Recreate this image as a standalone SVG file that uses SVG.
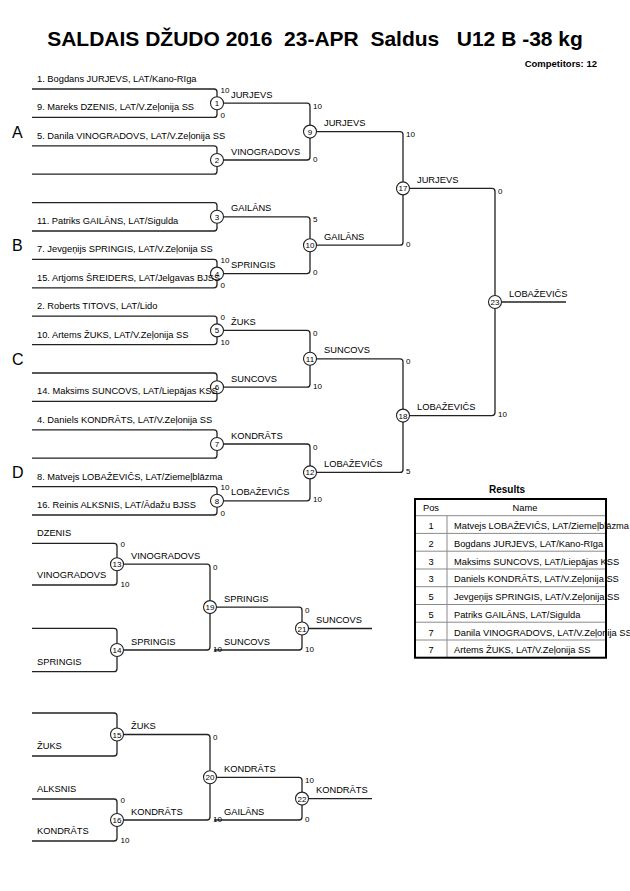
<svg xmlns="http://www.w3.org/2000/svg" width="630" height="891" viewBox="0 0 630 891">
<style>
text{font-family:"Liberation Sans",Arial,sans-serif;fill:#000}
.br{fill:none;stroke:#222;stroke-width:1.3}
.c{fill:#fff;stroke:#222;stroke-width:1.1}
.n{font-size:9.3px}
.w{font-size:9.3px}
.s{font-size:8px}
.cn{font-size:8px;text-anchor:middle}
.pool{font-size:16px}
.title{font-size:21px;font-weight:bold}
.comp{font-size:9.5px;font-weight:bold;text-anchor:end}
.rl{stroke:#8a8a8a;stroke-width:1}
.mid{text-anchor:middle}
</style>
<rect width="630" height="891" fill="#fff"/>
<text class="title" x="315" y="46" text-anchor="middle" xml:space="preserve">SALDAIS DŽUDO 2016  23-APR  Saldus   U12 B -38 kg</text>
<text class="comp" x="597" y="67">Competitors: 12</text>
<g id="pools">
<text class="pool" x="12" y="137.6">A</text>
<text class="pool" x="12" y="251.2">B</text>
<text class="pool" x="12" y="364.8">C</text>
<text class="pool" x="12" y="478.4">D</text>
</g>
<g id="connectors">
<path class="br" d="M32 89H214Q217 89 217 92V114.4Q217 117.4 214 117.4H32"/>
<path class="br" d="M32 145.8H214Q217 145.8 217 148.8V171.2Q217 174.2 214 174.2H32"/>
<path class="br" d="M32 202.6H214Q217 202.6 217 205.6V228Q217 231 214 231H32"/>
<path class="br" d="M32 259.4H214Q217 259.4 217 262.4V284.8Q217 287.8 214 287.8H32"/>
<path class="br" d="M32 316.2H214Q217 316.2 217 319.2V341.6Q217 344.6 214 344.6H32"/>
<path class="br" d="M32 373H214Q217 373 217 376V398.4Q217 401.4 214 401.4H32"/>
<path class="br" d="M32 429.8H214Q217 429.8 217 432.8V455.2Q217 458.2 214 458.2H32"/>
<path class="br" d="M32 486.6H214Q217 486.6 217 489.6V512Q217 515 214 515H32"/>
<path class="br" d="M217 103.2H307Q310 103.2 310 106.2V157Q310 160 307 160H217"/>
<path class="br" d="M217 216.8H307Q310 216.8 310 219.8V270.6Q310 273.6 307 273.6H217"/>
<path class="br" d="M217 330.4H307Q310 330.4 310 333.4V384.2Q310 387.2 307 387.2H217"/>
<path class="br" d="M217 444H307Q310 444 310 447V497.8Q310 500.8 307 500.8H217"/>
<path class="br" d="M310 131.6H400Q403 131.6 403 134.6V242.2Q403 245.2 400 245.2H310"/>
<path class="br" d="M310 358.8H400Q403 358.8 403 361.8V469.4Q403 472.4 400 472.4H310"/>
<path class="br" d="M403 188.4H492Q495 188.4 495 191.4V412.6Q495 415.6 492 415.6H403"/>
<path class="br" d="M495 302H566"/>
<path class="br" d="M32 543.3H114Q117 543.3 117 546.3V582Q117 585 114 585H32"/>
<path class="br" d="M32 628.3H114Q117 628.3 117 631.3V668.7Q117 671.7 114 671.7H32"/>
<path class="br" d="M117 564.2H207Q210 564.2 210 567.2V647Q210 650 207 650H117"/>
<path class="br" d="M210 607.1H299Q302 607.1 302 610.1V647Q302 650 299 650H214"/>
<path class="br" d="M302 628.5H372"/>
<path class="br" d="M32 713H114Q117 713 117 716V753Q117 756 114 756H32"/>
<path class="br" d="M32 799H114Q117 799 117 802V838Q117 841 114 841H32"/>
<path class="br" d="M117 734.5H207Q210 734.5 210 737.5V817Q210 820 207 820H117"/>
<path class="br" d="M210 777.3H299Q302 777.3 302 780.3V817Q302 820 299 820H214"/>
<path class="br" d="M302 798.6H372"/>
</g>
<g id="m1"><circle class="c" cx="217" cy="103.2" r="6.5"/><text class="cn" x="217" y="106.2">1</text><text class="w" x="231" y="97.7">JURJEVS</text><text class="s" x="220.5" y="92.5">10</text><text class="s" x="220.5" y="117.9">0</text></g>
<g id="m2"><circle class="c" cx="217" cy="160" r="6.5"/><text class="cn" x="217" y="163">2</text><text class="w" x="231" y="154.5">VINOGRADOVS</text></g>
<g id="m3"><circle class="c" cx="217" cy="216.8" r="6.5"/><text class="cn" x="217" y="219.8">3</text><text class="w" x="231" y="211.3">GAILĀNS</text></g>
<g id="m4"><circle class="c" cx="217" cy="273.6" r="6.5"/><text class="cn" x="217" y="276.6">4</text><text class="w" x="231" y="268.1">SPRINGIS</text><text class="s" x="220.5" y="262.9">10</text><text class="s" x="220.5" y="288.3">0</text></g>
<g id="m5"><circle class="c" cx="217" cy="330.4" r="6.5"/><text class="cn" x="217" y="333.4">5</text><text class="w" x="231" y="324.9">ŽUKS</text><text class="s" x="220.5" y="319.7">0</text><text class="s" x="220.5" y="345.1">10</text></g>
<g id="m6"><circle class="c" cx="217" cy="387.2" r="6.5"/><text class="cn" x="217" y="390.2">6</text><text class="w" x="231" y="381.7">SUNCOVS</text></g>
<g id="m7"><circle class="c" cx="217" cy="444" r="6.5"/><text class="cn" x="217" y="447">7</text><text class="w" x="231" y="438.5">KONDRĀTS</text></g>
<g id="m8"><circle class="c" cx="217" cy="500.8" r="6.5"/><text class="cn" x="217" y="503.8">8</text><text class="w" x="231" y="495.3">LOBAŽEVIČS</text><text class="s" x="220.5" y="490.1">10</text><text class="s" x="220.5" y="515.5">0</text></g>
<g id="m9"><circle class="c" cx="310" cy="131.6" r="6.5"/><text class="cn" x="310" y="134.6">9</text><text class="w" x="324" y="126.1">JURJEVS</text><text class="s" x="313" y="108.7">10</text><text class="s" x="313" y="161.5">0</text></g>
<g id="m10"><circle class="c" cx="310" cy="245.2" r="6.5"/><text class="cn" x="310" y="248.2">10</text><text class="w" x="324" y="239.7">GAILĀNS</text><text class="s" x="313" y="222.3">5</text><text class="s" x="313" y="275.1">0</text></g>
<g id="m11"><circle class="c" cx="310" cy="358.8" r="6.5"/><text class="cn" x="310" y="361.8">11</text><text class="w" x="324" y="353.3">SUNCOVS</text><text class="s" x="313" y="335.9">0</text><text class="s" x="313" y="388.7">10</text></g>
<g id="m12"><circle class="c" cx="310" cy="472.4" r="6.5"/><text class="cn" x="310" y="475.4">12</text><text class="w" x="324" y="466.9">LOBAŽEVIČS</text><text class="s" x="313" y="449.5">0</text><text class="s" x="313" y="502.3">10</text></g>
<g id="m17"><circle class="c" cx="403" cy="188.4" r="6.5"/><text class="cn" x="403" y="191.4">17</text><text class="w" x="417" y="182.9">JURJEVS</text><text class="s" x="406" y="137.1">10</text><text class="s" x="406" y="246.7">0</text></g>
<g id="m18"><circle class="c" cx="403" cy="415.6" r="6.5"/><text class="cn" x="403" y="418.6">18</text><text class="w" x="417" y="410.1">LOBAŽEVIČS</text><text class="s" x="406" y="364.3">0</text><text class="s" x="406" y="474">5</text></g>
<g id="m23"><circle class="c" cx="495" cy="302" r="6.5"/><text class="cn" x="495" y="305">23</text><text class="w" x="509" y="296.5">LOBAŽEVIČS</text><text class="s" x="498" y="193.9">0</text><text class="s" x="498" y="417.1">10</text></g>
<g id="m13"><circle class="c" cx="117" cy="564.2" r="6.5"/><text class="cn" x="117" y="567.2">13</text><text class="w" x="131" y="558.7">VINOGRADOVS</text><text class="s" x="120.5" y="547.3">0</text><text class="s" x="120.5" y="586.7">10</text></g>
<g id="m14"><circle class="c" cx="117" cy="650" r="6.5"/><text class="cn" x="117" y="653">14</text><text class="w" x="131" y="644.5">SPRINGIS</text></g>
<g id="m19"><circle class="c" cx="210" cy="607.1" r="6.5"/><text class="cn" x="210" y="610.1">19</text><text class="w" x="224" y="601.6">SPRINGIS</text><text class="s" x="213" y="569.7">0</text><text class="s" x="213" y="651.5">10</text><text class="w" x="224" y="644.5">SUNCOVS</text></g>
<g id="m21"><circle class="c" cx="302" cy="628.5" r="6.5"/><text class="cn" x="302" y="631.5">21</text><text class="w" x="316" y="623">SUNCOVS</text><text class="s" x="305" y="612.6">0</text><text class="s" x="305" y="651.5">10</text></g>
<g id="m15"><circle class="c" cx="117" cy="734.5" r="6.5"/><text class="cn" x="117" y="737.5">15</text><text class="w" x="131" y="729">ŽUKS</text></g>
<g id="m16"><circle class="c" cx="117" cy="820" r="6.5"/><text class="cn" x="117" y="823">16</text><text class="w" x="131" y="814.5">KONDRĀTS</text><text class="s" x="120.5" y="803">0</text><text class="s" x="120.5" y="842.7">10</text></g>
<g id="m20"><circle class="c" cx="210" cy="777.3" r="6.5"/><text class="cn" x="210" y="780.3">20</text><text class="w" x="224" y="771.8">KONDRĀTS</text><text class="s" x="213" y="740">0</text><text class="s" x="213" y="821.5">10</text><text class="w" x="224" y="814.5">GAILĀNS</text></g>
<g id="m22"><circle class="c" cx="302" cy="798.6" r="6.5"/><text class="cn" x="302" y="801.6">22</text><text class="w" x="316" y="793.1">KONDRĀTS</text><text class="s" x="305" y="782.8">10</text><text class="s" x="305" y="821.5">0</text></g>
<g id="names">
<text class="n" x="37" y="82">1. Bogdans JURJEVS, LAT/Kano-Rīga</text>
<text class="n" x="37" y="110.4">9. Mareks DZENIS, LAT/V.Zeļonija SS</text>
<text class="n" x="37" y="138.8">5. Danila VINOGRADOVS, LAT/V.Zeļonija SS</text>
<text class="n" x="37" y="224">11. Patriks GAILĀNS, LAT/Sigulda</text>
<text class="n" x="37" y="252.4">7. Jevgeņijs SPRINGIS, LAT/V.Zeļonija SS</text>
<text class="n" x="37" y="280.8">15. Artjoms ŠREIDERS, LAT/Jelgavas BJSS</text>
<text class="n" x="37" y="309.2">2. Roberts TITOVS, LAT/Lido</text>
<text class="n" x="37" y="337.6">10. Artems ŽUKS, LAT/V.Zeļonija SS</text>
<text class="n" x="37" y="394.4">14. Maksims SUNCOVS, LAT/Liepājas KSS</text>
<text class="n" x="37" y="422.8">4. Daniels KONDRĀTS, LAT/V.Zeļonija SS</text>
<text class="n" x="37" y="479.6">8. Matvejs LOBAŽEVIČS, LAT/Ziemeļblāzma</text>
<text class="n" x="37" y="508">16. Reinis ALKSNIS, LAT/Ādažu BJSS</text>
<text class="n" x="37" y="536.3">DZENIS</text>
<text class="n" x="37" y="578">VINOGRADOVS</text>
<text class="n" x="37" y="664.7">SPRINGIS</text>
<text class="n" x="37" y="749">ŽUKS</text>
<text class="n" x="37" y="792">ALKSNIS</text>
<text class="n" x="37" y="834">KONDRĀTS</text>
</g>
<g id="results">
<text x="507" y="493" font-size="10" font-weight="bold" text-anchor="middle">Results</text>
<text class="n mid" x="431" y="511">Pos</text>
<text class="n mid" x="525" y="511">Name</text>
<g class="n">
<text class="mid" x="431" y="529">1</text><text x="454" y="529">Matvejs LOBAŽEVIČS, LAT/Ziemeļblāzma</text>
<text class="mid" x="431" y="546.7">2</text><text x="454" y="546.7">Bogdans JURJEVS, LAT/Kano-Rīga</text>
<text class="mid" x="431" y="564.5">3</text><text x="454" y="564.5">Maksims SUNCOVS, LAT/Liepājas KSS</text>
<text class="mid" x="431" y="582.2">3</text><text x="454" y="582.2">Daniels KONDRĀTS, LAT/V.Zeļonija SS</text>
<text class="mid" x="431" y="600">5</text><text x="454" y="600">Jevgeņijs SPRINGIS, LAT/V.Zeļonija SS</text>
<text class="mid" x="431" y="617.7">5</text><text x="454" y="617.7">Patriks GAILĀNS, LAT/Sigulda</text>
<text class="mid" x="431" y="635.5">7</text><text x="454" y="635.5">Danila VINOGRADOVS, LAT/V.Zeļonija SS</text>
<text class="mid" x="431" y="653.2">7</text><text x="454" y="653.2">Artems ŽUKS, LAT/V.Zeļonija SS</text>
</g>
<path class="rl" d="M415 515.7H606M415 533.4H606M415 551.2H606M415 569H606M415 586.7H606M415 604.5H606M415 622.2H606M415 640H606M447 515.7V657.7"/>
<rect x="415" y="499" width="191" height="158.7" fill="none" stroke="#000" stroke-width="2"/>
</g>
</svg>
